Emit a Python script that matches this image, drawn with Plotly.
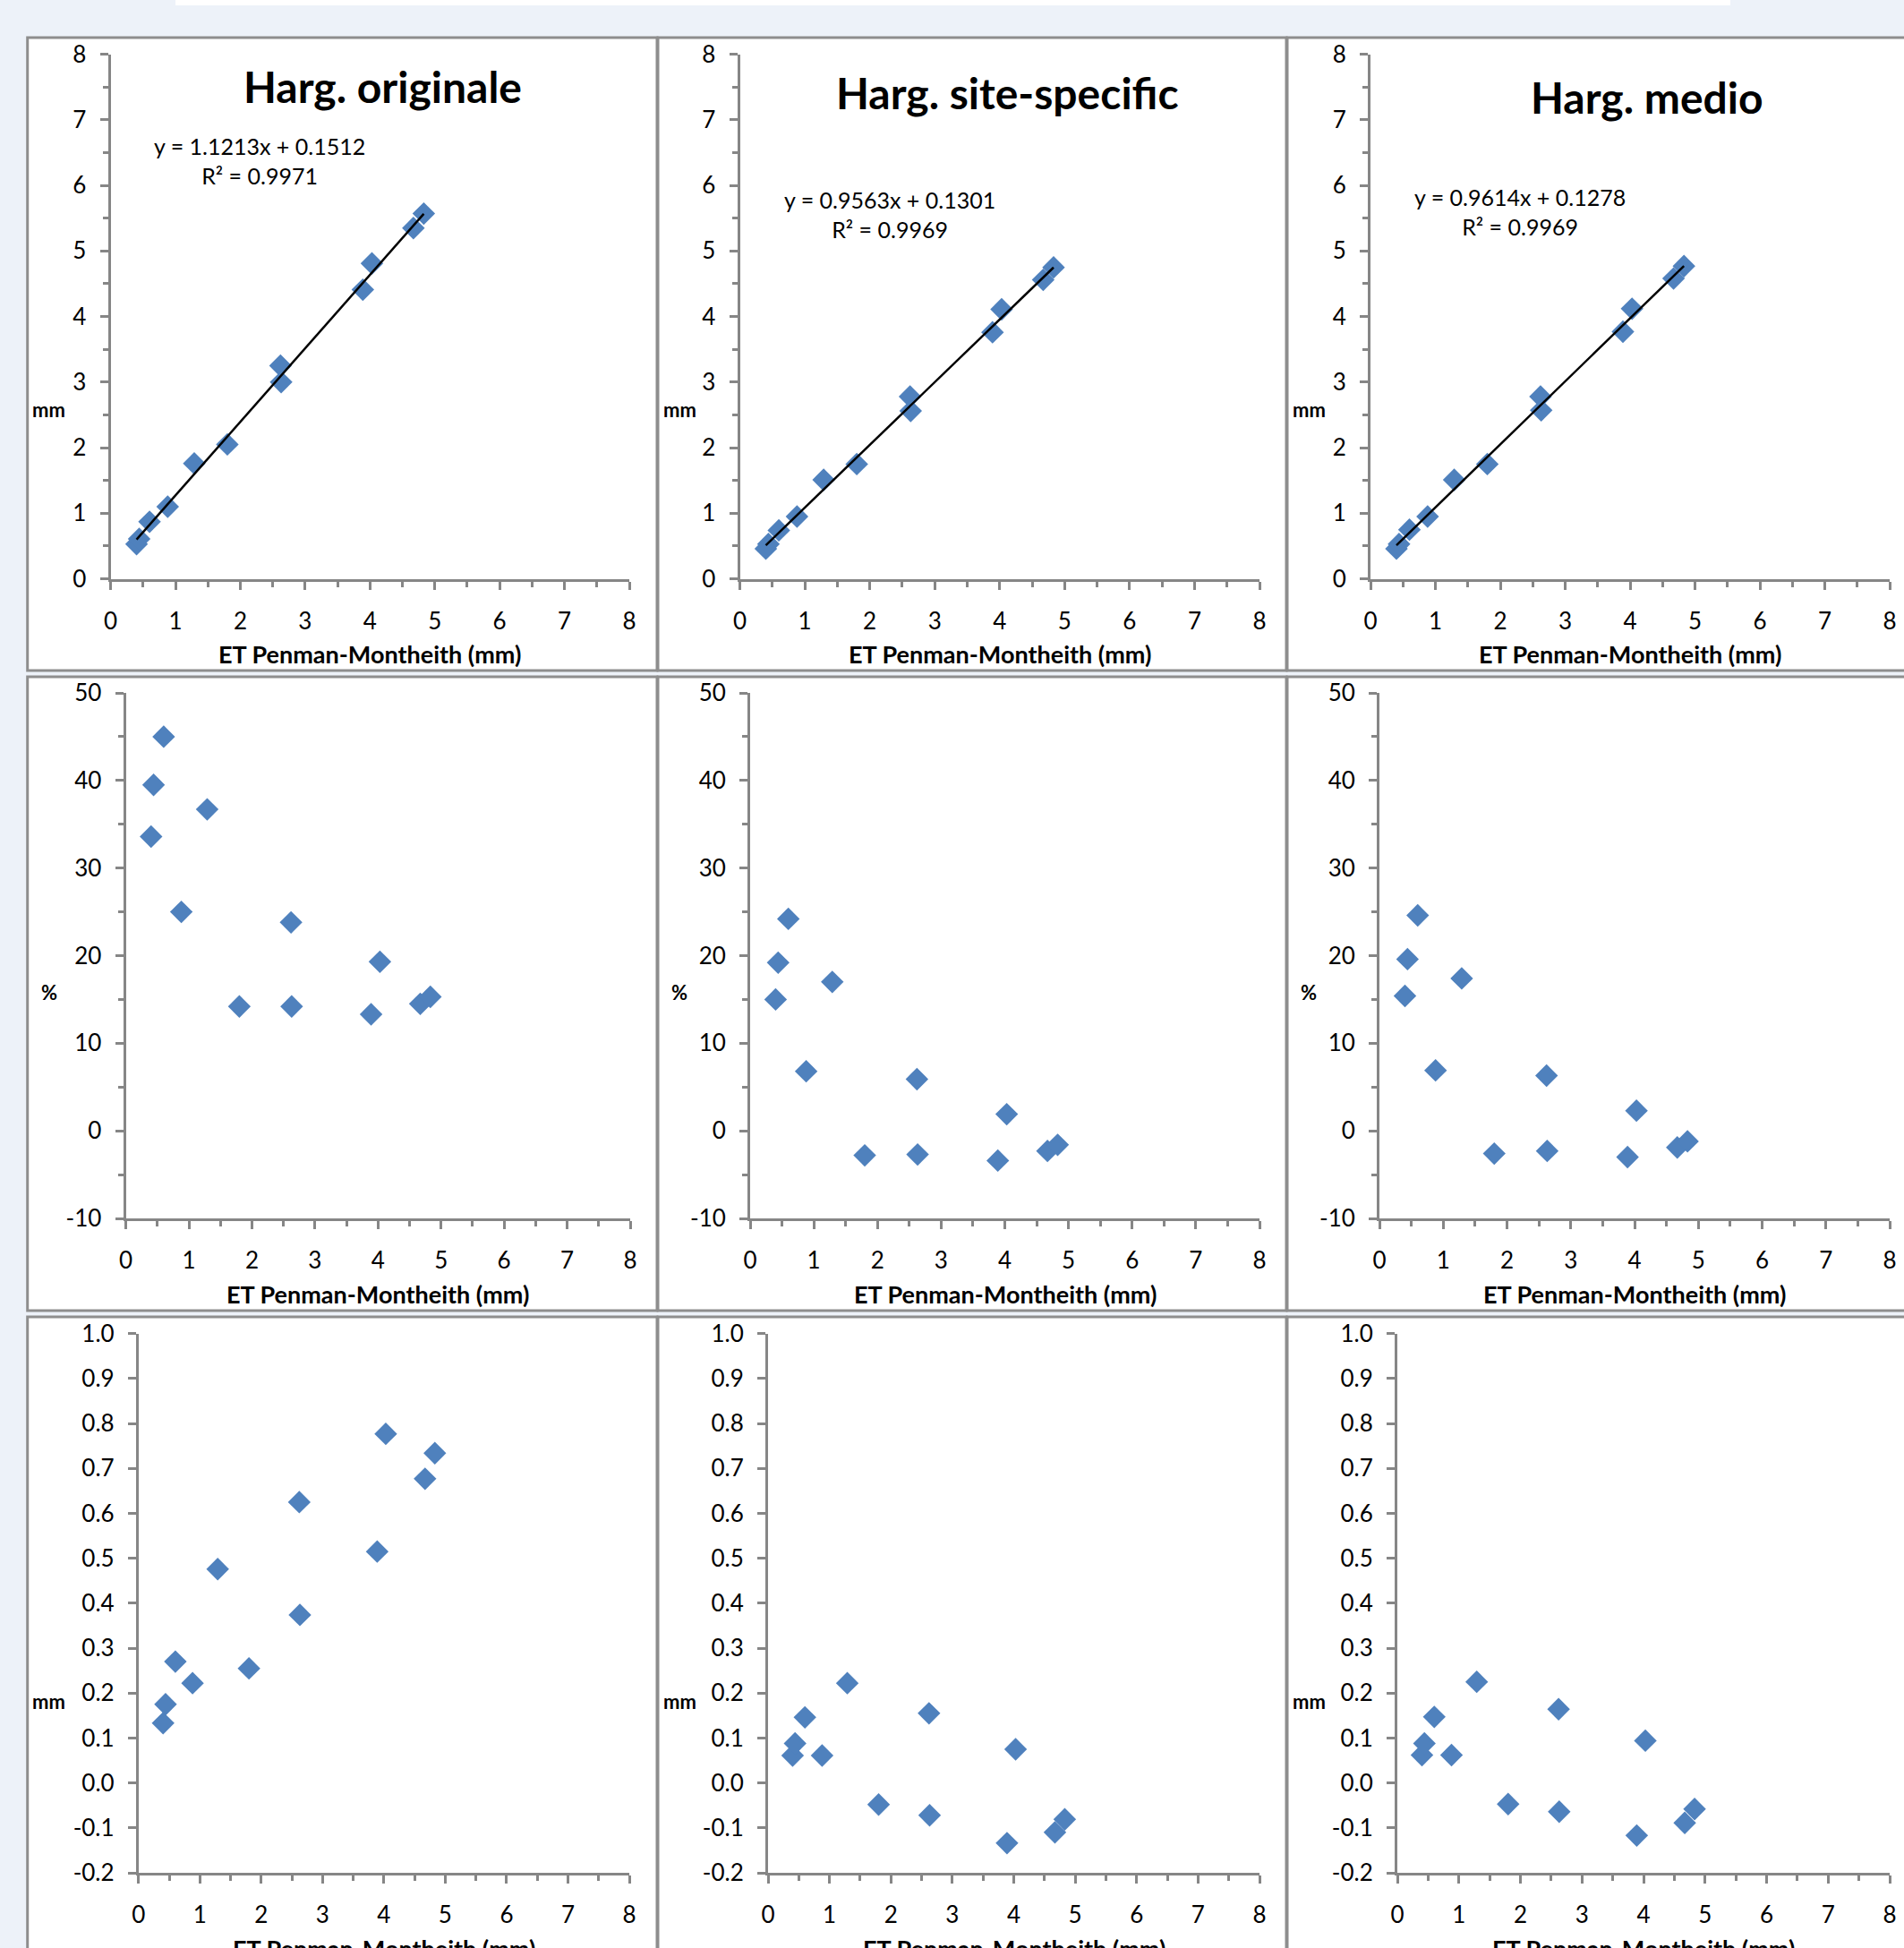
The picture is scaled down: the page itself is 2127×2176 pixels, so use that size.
import plotly.graph_objects as go

W, H = 2127, 2176

# ---------------- data ----------------
et_pm = [0.40, 0.44, 0.60, 0.88, 1.29, 1.80, 2.62, 2.63, 3.89, 4.03, 4.67, 4.83]

col_titles = ["Harg. originale", "Harg. site-specific", "Harg. medio"]

# row 1 : ET Hargreaves (mm)
hs_orig = [0.53, 0.61, 0.87, 1.10, 1.76, 2.05, 3.25, 3.00, 4.41, 4.81, 5.35, 5.57]
hs_site = [0.46, 0.53, 0.74, 0.95, 1.51, 1.75, 2.78, 2.56, 3.76, 4.11, 4.56, 4.75]
hs_medio = [0.46, 0.53, 0.75, 0.95, 1.51, 1.75, 2.78, 2.57, 3.77, 4.12, 4.58, 4.77]

# row 2 : error (%)
err_pct_orig = [33.6, 39.5, 45.0, 25.0, 36.7, 14.2, 23.8, 14.2, 13.3, 19.3, 14.5, 15.3]
err_pct_site = [15.0, 19.2, 24.2, 6.8, 17.0, -2.8, 5.9, -2.7, -3.4, 1.9, -2.3, -1.6]
err_pct_medio = [15.4, 19.6, 24.6, 6.9, 17.4, -2.6, 6.3, -2.3, -3.0, 2.3, -1.9, -1.2]

# row 3 : error (mm)
err_mm_orig = [0.133, 0.175, 0.270, 0.222, 0.476, 0.255, 0.625, 0.374, 0.515, 0.777, 0.677, 0.734]
err_mm_site = [0.061, 0.088, 0.146, 0.061, 0.222, -0.048, 0.155, -0.072, -0.134, 0.075, -0.110, -0.081]
err_mm_medio = [0.062, 0.088, 0.147, 0.062, 0.225, -0.047, 0.164, -0.064, -0.117, 0.094, -0.089, -0.058]

# linear trend lines of row 1
trend_slope = [1.1213, 0.9563, 0.9614]
trend_icpt = [0.1512, 0.1301, 0.1278]
trend_r2 = [0.9971, 0.9969, 0.9969]

x_title = "ET Penman-Montheith (mm)"
y_marks = ["mm", "%", "mm"]

x_tickvals = [0, 1, 2, 3, 4, 5, 6, 7, 8]
x_ticktext = ["0", "1", "2", "3", "4", "5", "6", "7", "8"]
y_tickvals = [
    [0, 1, 2, 3, 4, 5, 6, 7, 8],
    [-10, 0, 10, 20, 30, 40, 50],
    [-0.2, -0.1, 0.0, 0.1, 0.2, 0.3, 0.4, 0.5, 0.6, 0.7, 0.8, 0.9, 1.0],
]
y_ticktext = [
    ["0", "1", "2", "3", "4", "5", "6", "7", "8"],
    ["-10", "0", "10", "20", "30", "40", "50"],
    ["-0.2", "-0.1", "0.0", "0.1", "0.2", "0.3", "0.4", "0.5", "0.6", "0.7", "0.8", "0.9", "1.0"],
]
y_minor = [0.5, 5, None]

series = [
    [hs_orig, hs_site, hs_medio],
    [err_pct_orig, err_pct_site, err_pct_medio],
    [err_mm_orig, err_mm_site, err_mm_medio],
]

# ---------------- layout geometry (pixels) ----------------
plot_x = [
    [(123.6, 703), (826.5, 1407), (1531, 2111)],
    [(140.6, 704), (838, 1407), (1541, 2111)],
    [(154.8, 703), (858, 1407), (1561, 2111)],
]
plot_y = [(60.6, 646.6), (774, 1361), (1489.7, 2092)]
panel_x = [(30.7, 734), (735, 1437), (1438, 2150)]
panel_y = [(42, 749), (756, 1464), (1471, 2200)]
title_pos = [(427, 97), (1125, 103), (1840, 108)]
eq_pos = [(290, 179), (994, 239), (1698, 237)]
ymark_y = [458, 1108, 1900]

FONT = "Lato"
AXC = "#868686"
BLUE = "#4F81BD"


def px(x):
    return x / W


def py(y):
    return 1 - y / H


fig = go.Figure()
layout = dict(
    template="none",
    width=W, height=H, autosize=False,
    margin=dict(l=0, r=0, t=0, b=0, pad=0, autoexpand=False),
    paper_bgcolor="#EDF2F9",
    plot_bgcolor="rgba(0,0,0,0)",
    showlegend=False,
    font=dict(family=FONT, color="black"),
)
shapes = []
annotations = []

# white banner at top
shapes.append(dict(type="rect", xref="paper", yref="paper",
                   x0=px(196), x1=px(1933), y0=py(0), y1=py(6),
                   fillcolor="white", line=dict(width=0), layer="below"))

# panels
for r in range(3):
    for c in range(3):
        shapes.append(dict(type="rect", xref="paper", yref="paper",
                           x0=px(panel_x[c][0]), x1=px(panel_x[c][1]),
                           y0=py(panel_y[r][1]), y1=py(panel_y[r][0]),
                           fillcolor="white", line=dict(color="#8E8E8E", width=3),
                           layer="below"))

for r in range(3):
    for c in range(3):
        i = r * 3 + c + 1
        xs = "x" if i == 1 else f"x{i}"
        ys = "y" if i == 1 else f"y{i}"
        xd = [px(plot_x[r][c][0]), px(plot_x[r][c][1])]
        yd = [py(plot_y[r][1]), py(plot_y[r][0])]
        yr = [y_tickvals[r][0], y_tickvals[r][-1]]

        fig.add_trace(go.Scatter(
            x=et_pm, y=series[r][c], mode="markers", xaxis=xs, yaxis=ys,
            marker=dict(symbol="diamond", size=19.5, color=BLUE, line=dict(width=0)),
            hoverinfo="skip"))
        if r == 0:
            xl = [min(et_pm), max(et_pm)]
            fig.add_trace(go.Scatter(
                x=xl, y=[trend_slope[c] * v + trend_icpt[c] for v in xl],
                mode="lines", xaxis=xs, yaxis=ys,
                line=dict(color="black", width=2.5), hoverinfo="skip"))

        common = dict(showgrid=False, zeroline=False, showline=True, linecolor=AXC,
                      linewidth=3, ticks="outside", ticklen=9, tickwidth=2.5,
                      tickcolor=AXC, tickfont=dict(family=FONT, size=26, color="black"),
                      tickmode="array", fixedrange=True, automargin=False)
        xminor = dict(ticks="outside", ticklen=6, tickwidth=2.5, tickcolor=AXC,
                      tickmode="array", tickvals=[0.5, 1.5, 2.5, 3.5, 4.5, 5.5, 6.5, 7.5])
        layout["xaxis" if i == 1 else f"xaxis{i}"] = dict(
            common, domain=xd, range=[0, 8], anchor=ys,
            tickvals=x_tickvals, ticktext=x_ticktext, ticklabelstandoff=13,
            minor=xminor)
        ycfg = dict(common, domain=yd, range=yr, anchor=xs,
                    tickvals=y_tickvals[r], ticktext=y_ticktext[r], ticklabelstandoff=10)
        if y_minor[r] is not None:
            step = y_minor[r]
            mv = [v + step for v in y_tickvals[r][:-1]]
            ycfg["minor"] = dict(ticks="outside", ticklen=6, tickwidth=2.5, tickcolor=AXC,
                                 tickmode="array", tickvals=mv)
        layout["yaxis" if i == 1 else f"yaxis{i}"] = ycfg

        # inner half of the crossing major ticks
        j = i + 10
        layout[f"xaxis{j}"] = dict(domain=xd, range=[0, 8], anchor=ys, overlaying=xs,
                                   showgrid=False, zeroline=False, showline=False,
                                   ticks="inside", ticklen=9, tickwidth=2.5, tickcolor=AXC,
                                   tickmode="array", tickvals=x_tickvals,
                                   showticklabels=False, fixedrange=True, automargin=False)
        layout[f"yaxis{j}"] = dict(domain=yd, range=yr, anchor=xs, overlaying=ys,
                                   showgrid=False, zeroline=False, showline=False,
                                   ticks="inside", ticklen=9, tickwidth=2.5, tickcolor=AXC,
                                   tickmode="array", tickvals=y_tickvals[r],
                                   showticklabels=False, fixedrange=True, automargin=False)

        # x-axis title
        cx = (plot_x[r][c][0] + plot_x[r][c][1]) / 2
        annotations.append(dict(xref="paper", yref="paper", x=px(cx),
                                y=py(plot_y[r][1] + 84), xanchor="center", yanchor="middle",
                                text=f"<b>{x_title}</b>", showarrow=False,
                                font=dict(family=FONT, size=27, color="black")))
        # collapsed y-axis title mark
        annotations.append(dict(xref="paper", yref="paper", x=px(panel_x[c][0] + 24),
                                y=py(ymark_y[r]), xanchor="center", yanchor="middle",
                                text=f"<b>{y_marks[r]}</b>", showarrow=False,
                                font=dict(family=FONT, size=22, color="black")))

for c in range(3):
    annotations.append(dict(xref="paper", yref="paper", x=px(title_pos[c][0]),
                            y=py(title_pos[c][1]), xanchor="center", yanchor="middle",
                            text=f"<b>{col_titles[c]}</b>", showarrow=False,
                            font=dict(family=FONT, size=48, color="black")))
    eq = f"y = {trend_slope[c]:.4f}x + {trend_icpt[c]:.4f}<br>R² = {trend_r2[c]:.4f}"
    annotations.append(dict(xref="paper", yref="paper", x=px(eq_pos[c][0]),
                            y=py(eq_pos[c][1]), xanchor="center", yanchor="middle",
                            text=eq, showarrow=False, align="center",
                            font=dict(family=FONT, size=25, color="black")))

layout["shapes"] = shapes
layout["annotations"] = annotations
fig.update_layout(**layout)

fig.write_html("out.html", config={"displayModeBar": False},
               post_script="document.body.style.margin='0';document.body.style.overflow='hidden';")
